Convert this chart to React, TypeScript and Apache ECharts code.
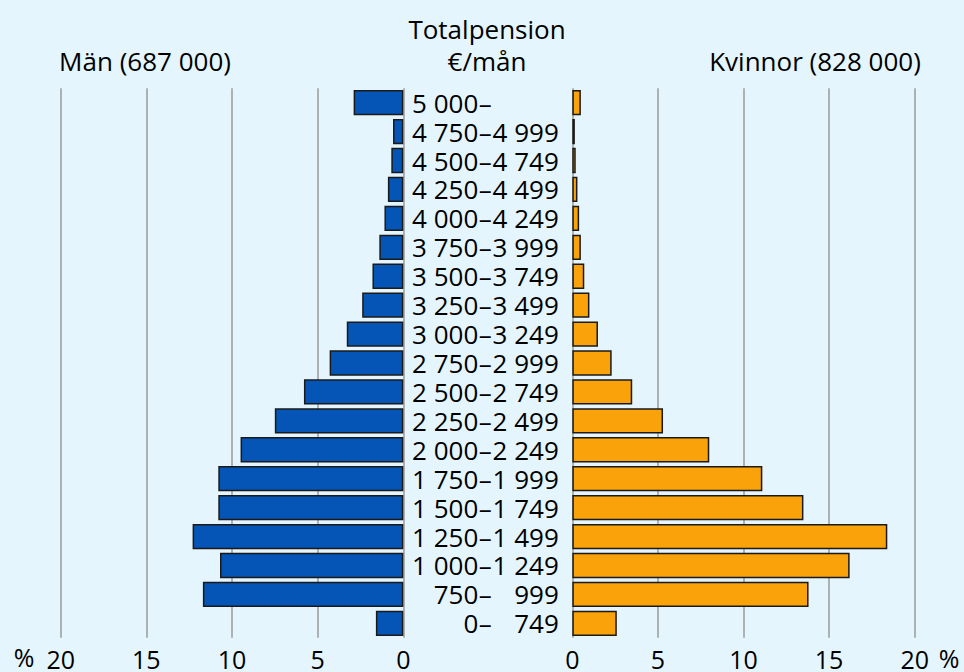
import React, { useEffect, useRef } from "react";
import * as echarts from "echarts";

const categories = [
  "5 000–", "4 750–4 999", "4 500–4 749", "4 250–4 499", "4 000–4 249",
  "3 750–3 999", "3 500–3 749", "3 250–3 499", "3 000–3 249", "2 750–2 999",
  "2 500–2 749", "2 250–2 499", "2 000–2 249", "1 750–1 999", "1 500–1 749",
  "1 250–1 499", "1 000–1 249", "750–999", "0–749",
];
const men = [2.9, 0.6, 0.7, 0.9, 1.1, 1.4, 1.8, 2.4, 3.3, 4.3, 5.8, 7.5, 9.5, 10.8, 10.8, 12.3, 10.7, 11.7, 1.6];
const women = [0.5, 0.15, 0.2, 0.3, 0.4, 0.5, 0.7, 1.0, 1.5, 2.3, 3.5, 5.3, 8.0, 11.1, 13.5, 18.4, 16.2, 13.8, 2.6];
const xTicks = { min: 0, max: 20, interval: 5 };
const titleTop = ["Totalpension", "€/mån"];
const menTitle = "Män (687 000)";
const womenTitle = "Kvinnor (828 000)";

const FONT = "Open Sans";
const FS = 26;
const FS_AX = 25;

export default function App() {
  const ref = useRef<HTMLDivElement>(null);
  useEffect(() => {
    document.body.style.margin = "0";
    const chart = echarts.init(ref.current!, null, { renderer: "svg" });
    const gridTop = 88.2;
    const gridH = 549.6;
    const xAxisCommon = {
      type: "value",
      min: xTicks.min,
      max: xTicks.max,
      interval: xTicks.interval,
      axisLine: { show: false },
      axisTick: { show: false },
      axisLabel: { fontFamily: FONT, fontSize: FS_AX, color: "#000", margin: 11, lineHeight: 20 },
      splitLine: { show: true, lineStyle: { color: "#9a9a9a", width: 1.5 } },
    };
    const txt = (text: string, x: number, y: number, fs = FS) => ({
      type: "text",
      x,
      y,
      style: { text, fontFamily: FONT, fontSize: fs, fill: "#000", align: "center", verticalAlign: "middle", lineHeight: 22 },
    });
    const richStyle = (w: number) => ({ width: w, align: "right", fontFamily: FONT, fontSize: FS, color: "#000", lineHeight: 24 });
    chart.setOption({
      animation: false,
      backgroundColor: "#e5f5fd",
      textStyle: { fontFamily: FONT },
      grid: [
        { left: 60.7, width: 342.6, top: gridTop, height: gridH },
        { left: 572.3, width: 342.4, top: gridTop, height: gridH },
      ],
      xAxis: [
        { ...xAxisCommon, gridIndex: 0, inverse: true },
        { ...xAxisCommon, gridIndex: 1 },
      ],
      yAxis: [
        {
          type: "category",
          gridIndex: 0,
          data: categories,
          inverse: true,
          position: "right",
          axisLine: { show: false },
          axisTick: { show: false },
          axisLabel: {
            interval: 0,
            margin: 8,
            fontFamily: FONT,
            fontSize: FS,
            lineHeight: 24,
            color: "#000",
            align: "left",
            formatter: (v: string) => {
              const [a, b] = v.split("–");
              return `{a|${a}}{d|–}{b|${b || " "}}`;
            },
            rich: {
              a: richStyle(67),
              d: richStyle(13.5),
              b: richStyle(67),
            },
          },
        },
        {
          type: "category",
          gridIndex: 1,
          data: categories,
          inverse: true,
          show: false,
        },
      ],
      series: [
        {
          type: "bar",
          xAxisIndex: 0,
          yAxisIndex: 0,
          data: men,
          barCategoryGap: "12.5%",
          itemStyle: { color: "#0455b5", borderColor: "#1a1a1a", borderWidth: 1.5 },
        },
        {
          type: "bar",
          xAxisIndex: 1,
          yAxisIndex: 1,
          data: women,
          barCategoryGap: "12.5%",
          itemStyle: { color: "#f9a20a", borderColor: "#1a1a1a", borderWidth: 1.5 },
        },
      ],
      graphic: [
        txt(titleTop[0], 487, 29),
        txt(titleTop[1], 487, 61),
        txt(menTitle, 145, 61),
        txt(womenTitle, 815, 61),
        txt("%", 24, 657, FS_AX),
        txt("%", 949, 658, FS_AX),
      ],
    });
    return () => chart.dispose();
  }, []);
  return <div ref={ref} style={{ position: "absolute", left: 0, top: 0, width: 964, height: 672 }} />;
}
